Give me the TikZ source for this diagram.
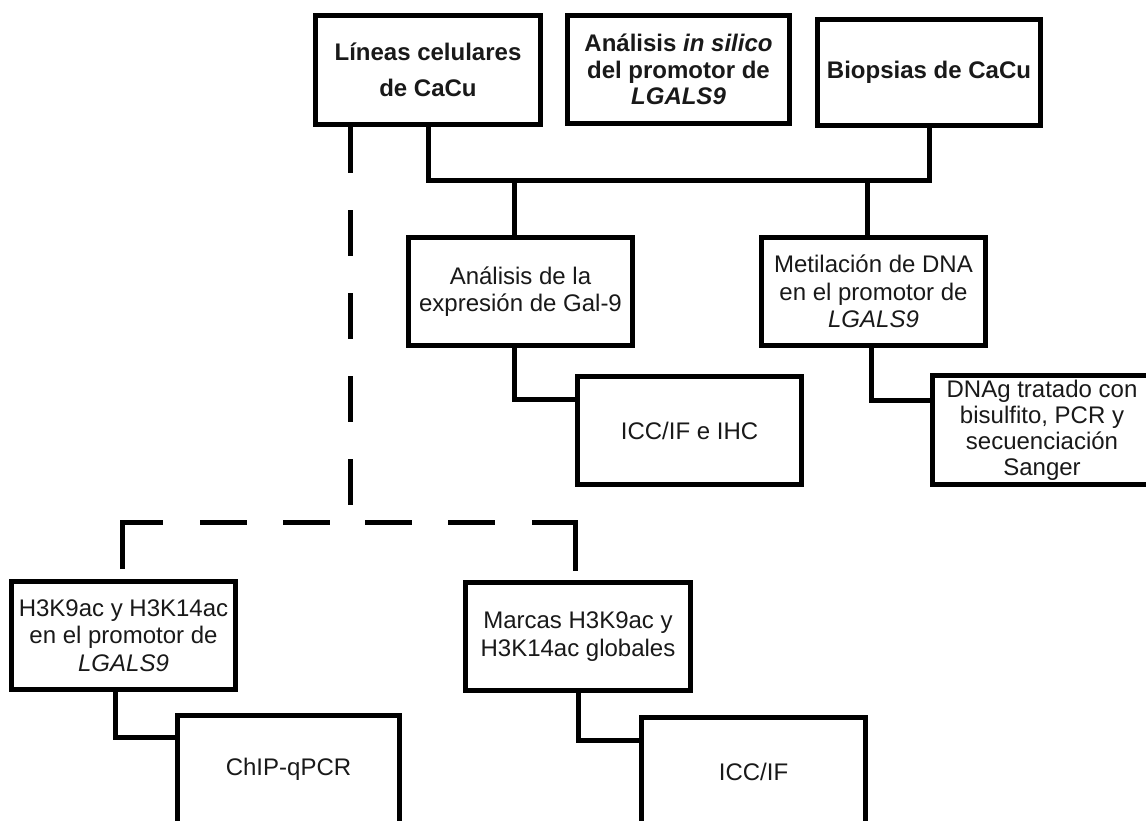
\documentclass[tikz,border=0pt]{standalone}
\usepackage{fontspec}
\setmainfont{Liberation Sans}
\begin{document}
\begin{tikzpicture}[x=1pt,y=-1pt,
  box/.style={draw=black, line width=5pt, fill=white, align=center, inner sep=2pt,
    minimum width=224pt, minimum height=108pt,
    font=\fontsize{24}{27.6}\selectfont, text=black!90},
  boldbox/.style={box, font=\fontsize{24}{26.5}\selectfont\bfseries},
  conn/.style={draw=black, line width=5pt, line join=miter},
  dconn/.style={conn}
]
\path[use as bounding box] (0,0) rectangle (1146,820);
\clip (0,0) rectangle (1146,820);
\fill[white] (0,0) rectangle (1146,820);

% top row
\node[boldbox, font=\fontsize{24}{36}\selectfont\bfseries, minimum width=225pt, minimum height=109pt] (lin) at (428,70) {Líneas celulares\\de CaCu};
\node[boldbox, minimum width=222pt] (sil) at (678.5,69.5) {Análisis \textit{in silico}\\del promotor de\\\textit{LGALS9}};
\node[boldbox, minimum width=223pt, minimum height=106pt] (bio) at (929,72.5) {Biopsias de CaCu};

% second row
\node[box] (exp) at (520.5,291.5) {Análisis de la\\expresión de Gal-9};
\node[box] (met) at (873.5,291.5) {Metilación de DNA\\en el promotor de\\\textit{LGALS9}};

% third row
\node[box] (icc1) at (689.5,430.5) {ICC/IF e IHC};
\node[box, font=\fontsize{24}{26}\selectfont, minimum width=219pt, minimum height=109pt] (dna) at (1042,430) {DNAg tratado con\\bisulfito, PCR y\\secuenciación\\Sanger};

% lower part
\node[box] (h3k9) at (123.5,635.5) {H3K9ac y H3K14ac\\en el promotor de\\\textit{LGALS9}};
\node[box, minimum width=225pt] (mar) at (578,636.5) {Marcas H3K9ac y\\H3K14ac globales};
\node[box, minimum width=222pt] (chip) at (288.5,769.5) {ChIP-qPCR};
\node[box] (icc2) at (753.5,771.5) {ICC/IF};

% solid connectors
\coordinate (bus) at (0,180);
\draw[conn] (lin.south) -- (lin.south |- bus) -| (bio.south);
\draw[conn] ([xshift=-6pt]exp.north) -- ([xshift=-6pt]exp.north |- bus);
\draw[conn] ([xshift=-6pt]met.north) -- ([xshift=-6pt]met.north |- bus);
\draw[conn] ([xshift=-6pt]exp.south) |- ([yshift=31pt]icc1.west);
\draw[conn] ([xshift=-2pt]met.south) |- ([yshift=30pt]dna.west);
\draw[conn] ([xshift=-8pt]h3k9.south) |- ([yshift=32pt]chip.west);
\draw[conn] (mar.south) |- ([yshift=31.5pt]icc2.west);

% dashed connectors
\coordinate (dj) at (350,522);
\draw[dconn, dash pattern=on 46pt off 37pt] (lin.south -| dj) -- (dj);
\draw[dconn, dash pattern=on 88pt off 37pt on 47pt off 36pt on 47pt off 35pt on 47pt off 36pt on 47pt off 37pt on 92pt]
  ([xshift=-1.5pt,yshift=10pt]h3k9.north) |- (dj) -| ([xshift=-3pt,yshift=9pt]mar.north);
\end{tikzpicture}
\end{document}
